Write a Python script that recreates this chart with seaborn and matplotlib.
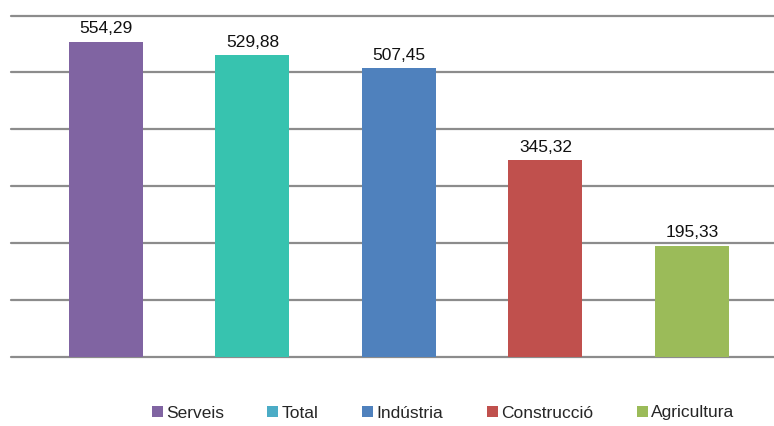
import matplotlib
matplotlib.use("Agg")
import matplotlib.pyplot as plt
from matplotlib.patches import Patch
import seaborn as sns
import pandas as pd

categories = ["Serveis", "Total", "Indústria", "Construcció", "Agricultura"]
values = [554.29, 529.88, 507.45, 345.32, 195.33]
value_labels = ["554,29", "529,88", "507,45", "345,32", "195,33"]
bar_colors = ["#8064A2", "#37C3AF", "#4F81BD", "#C0504D", "#9BBB59"]
legend_colors = ["#8064A2", "#4BACC6", "#4F81BD", "#C0504D", "#9BBB59"]
grid_values = [0, 100, 200, 300, 400, 500, 600]

sns.set_theme(style="white")
plt.rcParams["font.family"] = ["Liberation Sans", "DejaVu Sans"]

df = pd.DataFrame({"cat": categories, "val": values})

fig = plt.figure(figsize=(7.74, 4.26), dpi=100)
ax = fig.add_axes([11 / 774, 69 / 426, 763 / 774, (357 - 15.5) / 426])

sns.barplot(data=df, x="cat", y="val", hue="cat", palette=bar_colors,
            order=categories, hue_order=categories, legend=False,
            width=0.505, saturation=1, linewidth=0, ax=ax, zorder=3)

for g in grid_values:
    ax.axhline(g, color="#8C8C8C", linewidth=1.6, zorder=1, clip_on=False)

ax.set_xlim(-0.648, 4.56)
ax.set_ylim(0, 600)
ax.set_xlabel("")
ax.set_ylabel("")
ax.set_xticks([])
ax.set_yticks([])
for s in ax.spines.values():
    s.set_visible(False)

for i, (v, lab) in enumerate(zip(values, value_labels)):
    ax.annotate(lab, (i, v), xytext=(0, 4), textcoords="offset points",
                ha="center", va="bottom", fontsize=12.5, color="#111111")

handles = [Patch(facecolor=c, edgecolor="none") for c in legend_colors]
fig.legend(handles, categories, loc="center", bbox_to_anchor=(443 / 774, 1 - 413 / 426),
           ncol=5, frameon=False, fontsize=12.5, handlelength=0.63, handleheight=0.63,
           handletextpad=0.2, columnspacing=2.5)

fig.savefig("out.png", dpi=100)
